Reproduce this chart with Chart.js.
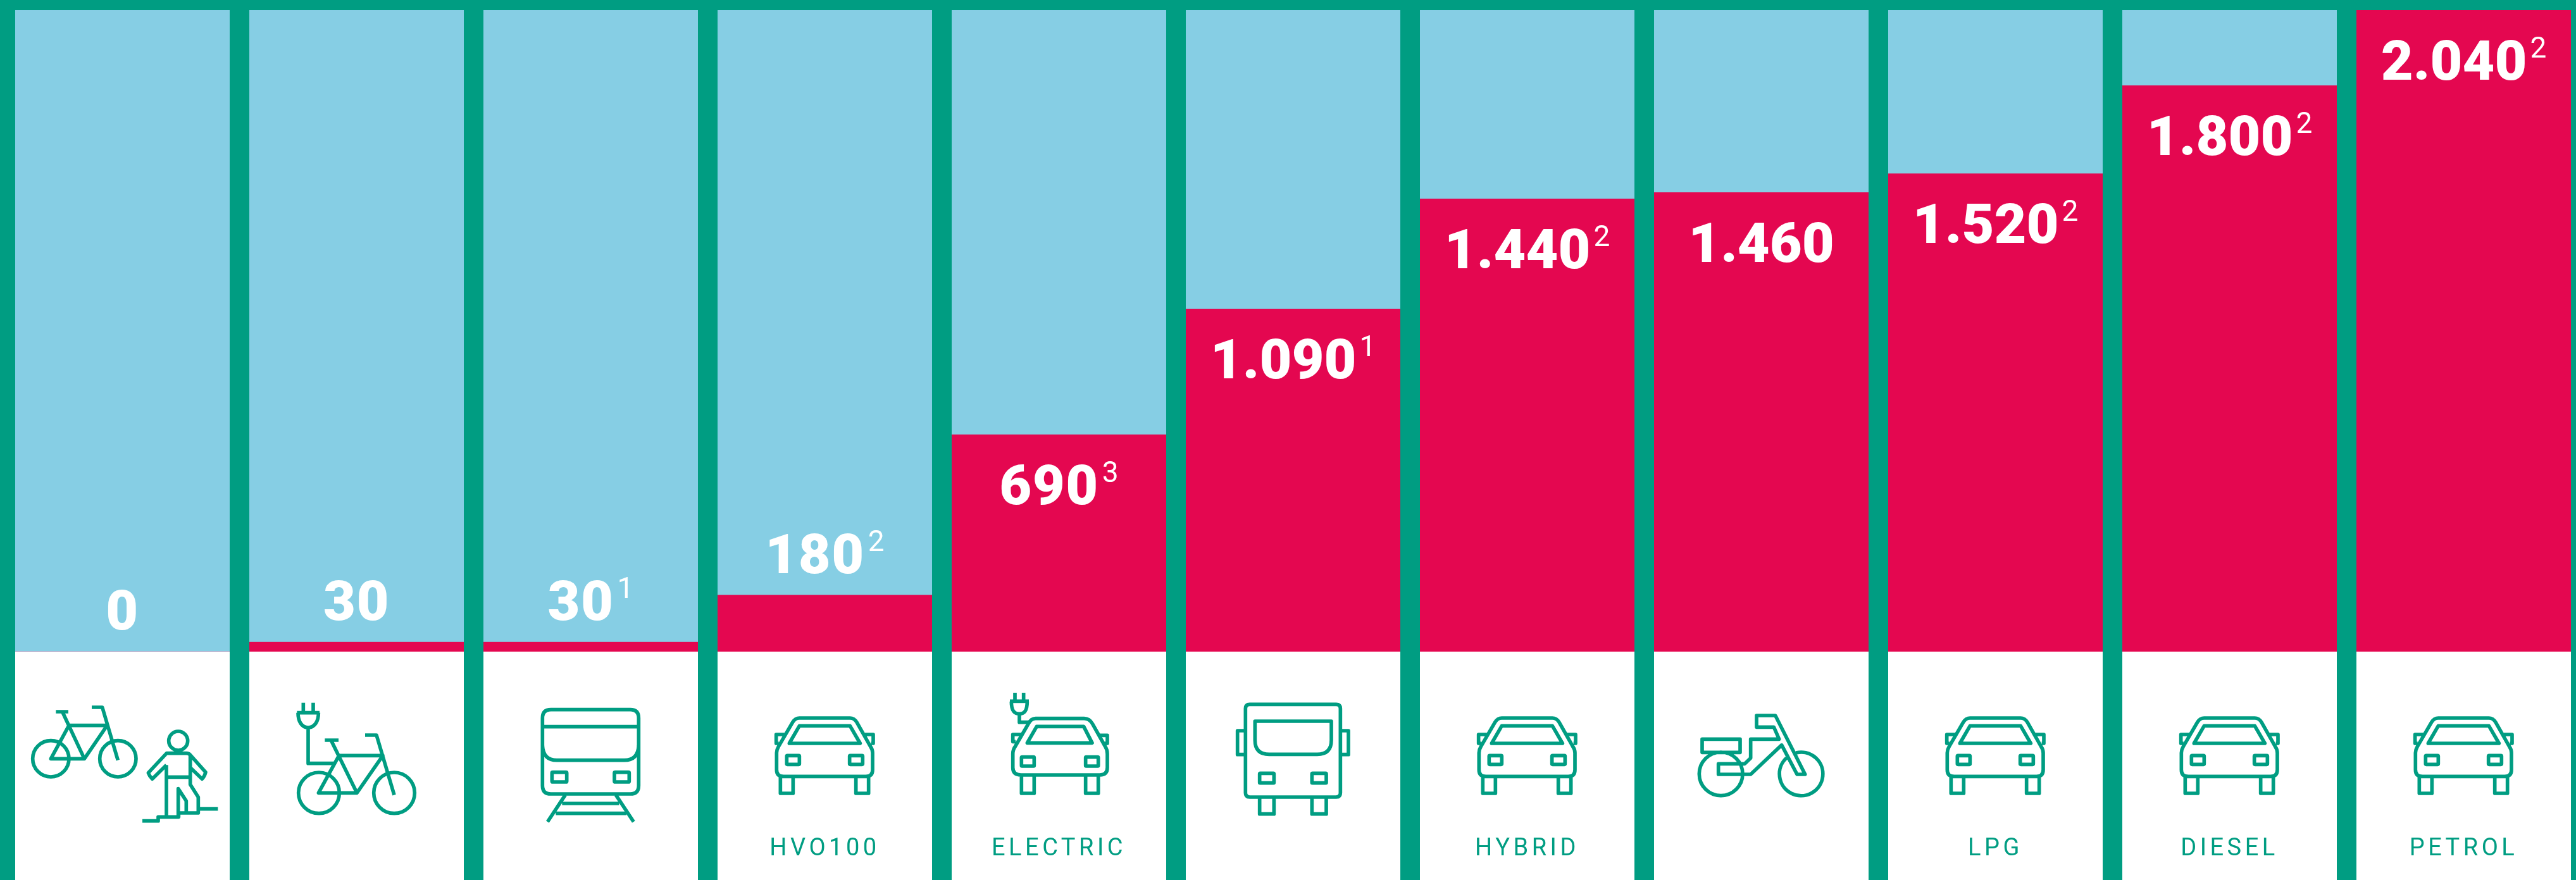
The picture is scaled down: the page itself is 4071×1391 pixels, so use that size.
<!DOCTYPE html>
<html>
<head>
<meta charset="utf-8">
<style>
html,body{margin:0;padding:0;background:#fff;overflow:hidden;width:4071px;height:1391px}
canvas{display:block}
</style>
<script src="https://cdn.jsdelivr.net/npm/chart.js@4"></script>
</head>
<body>
<canvas id="c" width="4080" height="1391"></canvas>
<script>
// ---- data ----
const categories = ['Bike / walk','E-bike','Train','HVO100','Electric','Bus','Hybrid','Moped','LPG','Diesel','Petrol'];
const tickLabels = ['','','','HVO100','ELECTRIC','','HYBRID','','LPG','DIESEL','PETROL'];
const emissions  = [0,30,30,180,690,1090,1440,1460,1520,1800,2040];
const valueLabels = ['0','30','30','180','690','1.090','1.440','1.460','1.520','1.800','2.040'];
const footnotes  = ['','','1','2','3','1','2','','2','2','2'];
const iconNames  = ['bikeWalk','eBike','train','car','eCar','bus','car','moped','car','car','car'];
const axisMax = 2040;
const fullColumn = categories.map(() => axisMax);

// ---- style ----
const GREEN = '#009D82', BLUE = '#86CEE4', RED = '#E40750';

// ---- icon helpers (drawn at 3x, local to a crop box around the column centre) ----
const circle = (cx,cy,r) => `M${cx-r},${cy}a${r},${r} 0 1,0 ${2*r},0a${r},${r} 0 1,0 ${-2*r},0`;
const rrect = (x1,y1,x2,y2,r) => `M${x1+r},${y1}H${x2-r}Q${x2},${y1} ${x2},${y1+r}V${y2-r}Q${x2},${y2} ${x2-r},${y2}H${x1+r}Q${x1},${y2} ${x1},${y2-r}V${y1+r}Q${x1},${y1} ${x1+r},${y1}Z`;
const icons = {
  bikeWalk:{dx:-163.5,dy:60,d:
    circle(151,328,86)+circle(469,328,86)+
    'M175,105H234M207,108L310,328M237,170H418L310,328H151L237,170M345,84H395L469,335'+
    circle(755,243,45)+
    'M699,358L632,424Q618,410 613,395L700,302H795Q805,302 812,310L885,392Q880,412 868,424L812,370'+
    'M812,310V450L850,510V585M699,358V604M700,415H812'+
    'M755,604V470L793,528V585M585,623H660V604H757V585H850V566H943'},
  eBike:{dx:-123.5,dy:60,d:
    'M118,62V105M165,62V105M88,110H195M93,110C93,150 110,180 141,180C172,180 190,150 190,110'+
    'M141,180V350H270'+circle(192,490,97)+circle(549,490,97)+
    'M220,240H285M252,245L372,490M287,313H495L372,490H190L287,313M411,216H465L549,500'},
  train:{dx:-103.5,dy:70,d:
    rrect(82,65,538,465,40)+'M82,146H538M82,235Q85,305 150,305H470Q535,305 538,235'+
    rrect(127,362,197,408,4)+rrect(423,362,493,408,4)+
    'M190,470L106,597M430,470L514,597M175,510H445M145,557H480'},
  car:{dx:-103.5,dy:80,d:
    'M190,75H430Q450,75 462,95L528,212Q537,225 537,240V320Q537,352 505,352H115Q82,352 82,320V240Q82,225 90,212L158,95Q170,75 190,75Z'+
    'M190,112H430L478,195H142ZM122,153H80V195H92M498,153H540V195H530'+
    rrect(130,253,190,295,3)+rrect(428,253,490,295,3)+
    'M100,352V432H160V352M458,352V432H518V352'},
  eCar:{dx:-103.5,dy:55,d:
    'M200,152H430Q455,152 470,178L530,285Q540,300 540,320V385Q540,420 505,420H130Q92,420 92,385V320Q92,300 103,285L165,178Q178,152 200,152Z'+
    'M205,190H428L468,268H160ZM130,228H92V262H105M505,232H540V270H525'+
    rrect(133,335,193,378,3)+rrect(437,335,497,378,3)+
    'M133,420V507H193V420M437,420V507H497V420'+
    'M102,30V70M143,30V70M78,70H168M85,72C85,110 95,130 123,130C150,130 160,110 160,72M123,130V170H165'},
  bus:{dx:-113.5,dy:70,d:
    rrect(115,40,565,480,20)+'M160,120H522V210Q522,277 455,277H227Q160,277 160,210Z'+
    'M115,165H77V278H115M565,165H603V278H565'+
    rrect(182,367,250,413,3)+rrect(430,367,498,413,3)+
    'M182,480V560H250V480M430,480V560H498V480'},
  moped:{dx:-113.5,dy:80,d:
    circle(149,340,103)+'M505,240A103,103 0 1,1 460,264'+
    'M60,175H240V238H60Z'+
    'M137,292H262L290,265V175H425L400,118H318V63H407L548,342H510L437,203L290,342H137Z'}
};
for (const k in icons) icons[k].path = new Path2D(icons[k].d);

const framePlugin = {
  id:'frame',
  beforeDraw(chart){
    const {ctx,chartArea} = chart;
    ctx.save();
    ctx.fillStyle = '#fff';
    ctx.fillRect(0,0,chart.width,chart.height);
    ctx.fillStyle = GREEN;
    ctx.fillRect(0,0,chart.width,chartArea.top);
    ctx.restore();
    ctx.letterSpacing = '5.5px';
  },
  beforeDatasetsDraw(chart){ chart.ctx.letterSpacing = '0px'; }
};

const overlayPlugin = {
  id:'overlay',
  afterDraw(chart){
    const {ctx,chartArea} = chart;
    const x = chart.scales.x;
    const bars = chart.getDatasetMeta(1).data;
    // icons
    iconNames.forEach((name,i)=>{
      const ic = icons[name];
      ctx.save();
      ctx.translate(x.getPixelForValue(i)+ic.dx, chartArea.bottom+ic.dy);
      ctx.scale(1/3,1/3);
      ctx.strokeStyle = GREEN;
      ctx.lineWidth = 17;
      ctx.lineJoin = 'round';
      ctx.lineCap = 'butt';
      ctx.stroke(ic.path);
      ctx.restore();
    });
    // value labels
    emissions.forEach((v,i)=>{
      const cx = x.getPixelForValue(i);
      const top = bars[i].y;
      const baseline = v >= 500 ? top + 110 : top - 35;
      const spacing = valueLabels[i].includes('.') ? '0px' : '1.5px';
      const mainFont = '900 88px Roboto', supFont = '400 46px Roboto';
      ctx.save();
      ctx.fillStyle = '#fff';
      ctx.textAlign = 'left';
      ctx.textBaseline = 'alphabetic';
      ctx.font = mainFont;
      ctx.letterSpacing = spacing;
      const w = ctx.measureText(valueLabels[i]).width;
      ctx.font = supFont;
      ctx.letterSpacing = '0px';
      const sw = footnotes[i] ? ctx.measureText(footnotes[i]).width + 5 : 0;
      const left = cx - (w + sw)/2;
      ctx.font = mainFont;
      ctx.letterSpacing = spacing;
      ctx.fillText(valueLabels[i], left, baseline);
      if (footnotes[i]) {
        ctx.font = supFont;
        ctx.letterSpacing = '0px';
        ctx.fillText(footnotes[i], left + w + 5, baseline - 35);
      }
      ctx.restore();
    });
  }
};

new Chart(document.getElementById('c').getContext('2d'), {
  type:'bar',
  data:{
    labels:categories,
    datasets:[
      {label:'Scale', data:fullColumn, backgroundColor:BLUE, order:2, grouped:false, barPercentage:1, categoryPercentage:1, borderWidth:0},
      {label:'Emissions', data:emissions, backgroundColor:RED, order:1, grouped:false, barPercentage:1, categoryPercentage:1, borderWidth:0}
    ]
  },
  options:{
    responsive:false,
    animation:false,
    devicePixelRatio:1,
    layout:{padding:{top:16,left:8.5,right:1.5,bottom:0}},
    plugins:{legend:{display:false},tooltip:{enabled:false},title:{display:false}},
    scales:{
      x:{
        type:'category',
        offset:true,
        afterFit(s){ s.height = 361; },
        grid:{display:true,offset:true,color:GREEN,tickColor:GREEN,lineWidth:31,tickWidth:31,tickLength:361,z:1,drawTicks:true,drawOnChartArea:true},
        border:{display:false},
        ticks:{
          autoSkip:false,maxRotation:0,minRotation:0,padding:-71,color:GREEN,
          font:{family:'Roboto',size:38,weight:'400'},
          callback(v,i){ return tickLabels[i]; }
        }
      },
      y:{display:false,min:0,max:axisMax,grid:{display:false}}
    }
  },
  plugins:[framePlugin,overlayPlugin]
});
</script>
</body>
</html>
